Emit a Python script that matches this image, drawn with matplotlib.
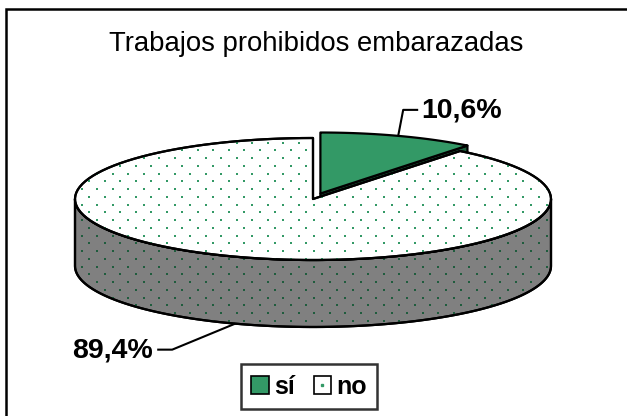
import numpy as np
import matplotlib.pyplot as plt
from matplotlib.patches import Polygon, Patch
from matplotlib.lines import Line2D
from matplotlib.legend_handler import HandlerTuple

plt.rcParams['font.family'] = ['Liberation Sans', 'DejaVu Sans']

# data
title = "Trabajos prohibidos embarazadas"
categories = ["sí", "no"]
values = [10.6, 89.4]
labels = ["10,6%", "89,4%"]
explode = [0.095, 0.0]

# styles
top_colors = ["#339966", "white"]
side_colors = ["#1d5c3b", "#808080"]
dotted = [False, True]
dot_colors = {"top": "#339966", "side": "#1f5c3d"}
# leader elbow offsets (pixels) for each label
leaders = [[(5, -26), (15, 0)], [(-63, 26), (-15, 0)]]

W, H = 627, 416
fig = plt.figure(figsize=(W / 100, H / 100), dpi=100)
ax = fig.add_axes([0, 0, 1, 1])
ax.set_xlim(0, W)
ax.set_ylim(H, 0)
ax.axis('off')

# pie geometry (pixels)
cx, cy, a, b, depth = 313, 199, 238, 61, 67


def pt(t, dx=0.0, dy=0.0, z=0.0):
    r = np.radians(t)
    return cx + dx + a * np.cos(r), cy + dy - b * np.sin(r) + z


def arc(t1, t2, dx, dy, z=0.0, n=120):
    ts = np.linspace(t1, t2, n)
    return [pt(t, dx, dy, z) for t in ts]


# dot lattice used as fill pattern
gx, gy = 15.5, 7.75
lattice = []
for j, yy in enumerate(np.arange(3, H, gy)):
    for xx in np.arange(4 + (gx / 2 if j % 2 else 0), W, gx):
        lattice.append((xx, yy))
lattice = np.array(lattice)


def draw_face(verts, fc, dots=None, z=1):
    poly = Polygon(verts, closed=True, facecolor=fc, edgecolor='black',
                   linewidth=1.6, joinstyle='round', zorder=z)
    ax.add_patch(poly)
    if dots:
        sc = ax.scatter(lattice[:, 0], lattice[:, 1], s=4.5, marker='s',
                        color=dots, linewidths=0, zorder=z + 0.1)
        sc.set_clip_path(poly)
        edge = Polygon(verts, closed=True, facecolor='none', edgecolor='black',
                       linewidth=1.6, joinstyle='round', zorder=z + 0.2)
        ax.add_patch(edge)


total = sum(values)
start = 90.0
slices = []
for i, v in enumerate(values):
    t2 = start
    t1 = start - 360.0 * v / total
    start = t1
    mid = (t1 + t2) / 2
    dx = explode[i] * a * np.cos(np.radians(mid))
    dy = -explode[i] * b * np.sin(np.radians(mid))
    slices.append((t1, t2, mid, dx, dy))

# draw exploded slices first (they sit behind)
order = sorted(range(len(values)), key=lambda k: -explode[k])
for zi, i in enumerate(order):
    t1, t2, mid, dx, dy = slices[i]
    base = 2 + zi * 3
    c0 = (cx + dx, cy + dy)
    c1 = (cx + dx, cy + dy + depth)
    dcol = dot_colors["side"] if dotted[i] else None
    # cut faces facing the viewer
    for t, normal in ((t1, t1 - 90), (t2, t2 + 90)):
        if np.sin(np.radians(normal)) < -1e-6:
            p0 = pt(t, dx, dy)
            p1 = pt(t, dx, dy, depth)
            draw_face([c0, p0, p1, c1], side_colors[i], dcol, base)
    # outer curved side (front half only)
    for k in range(-2, 2):
        lo = max(t1, 180 + 360 * k)
        hi = min(t2, 360 + 360 * k)
        if hi > lo:
            verts = arc(lo, hi, dx, dy) + arc(hi, lo, dx, dy, depth)
            draw_face(verts, side_colors[i], dcol, base)
    # top
    verts = [c0] + arc(t1, t2, dx, dy)
    draw_face(verts, top_colors[i], dot_colors["top"] if dotted[i] else None, base + 1)

# labels with leader lines
for i, lab in enumerate(labels):
    t1, t2, mid, dx, dy = slices[i]
    front = np.sin(np.radians(mid)) < 0
    x0, y0 = pt(mid, dx, dy, depth if front else 0)
    xs, ys = [x0], [y0]
    for ox, oy in leaders[i]:
        xs.append(xs[-1] + ox)
        ys.append(ys[-1] + oy)
    ax.plot(xs, ys, color='black', lw=1.5, zorder=20, solid_capstyle='butt')
    right = xs[-1] > xs[0]
    ax.text(xs[-1] + (3 if right else -4), ys[-1] + 1, lab, fontsize=20.5,
            fontweight='bold', ha='left' if right else 'right', va='center', zorder=20)

ax.text(W / 2 + 3, 44, title, fontsize=19.8, ha='center', va='center')

# outer frame (left and top only)
ax.plot([6, 6, W + 5], [H + 5, 9, 9], color='black', lw=1.8, zorder=30,
        solid_joinstyle='miter')

handles = [Patch(facecolor=top_colors[0], edgecolor='black', linewidth=1.2),
           (Patch(facecolor=top_colors[1], edgecolor='black', linewidth=1.2),
            Line2D([], [], marker='s', ls='', color=dot_colors["top"], ms=1.8))]
leg = ax.legend(handles, categories, loc='center', ncol=2,
                bbox_to_anchor=(309 / W, 1 - 386.5 / H), bbox_transform=fig.transFigure,
                prop={'size': 18, 'weight': 'bold'}, frameon=True, fancybox=False,
                edgecolor='black', handlelength=0.7, handleheight=0.75,
                handletextpad=0.2, columnspacing=0.75, borderpad=0.42,
                handler_map={tuple: HandlerTuple(ndivide=1)})
leg.get_frame().set_linewidth(1.8)
leg.set_zorder(40)

fig.savefig('out.png', dpi=100)
